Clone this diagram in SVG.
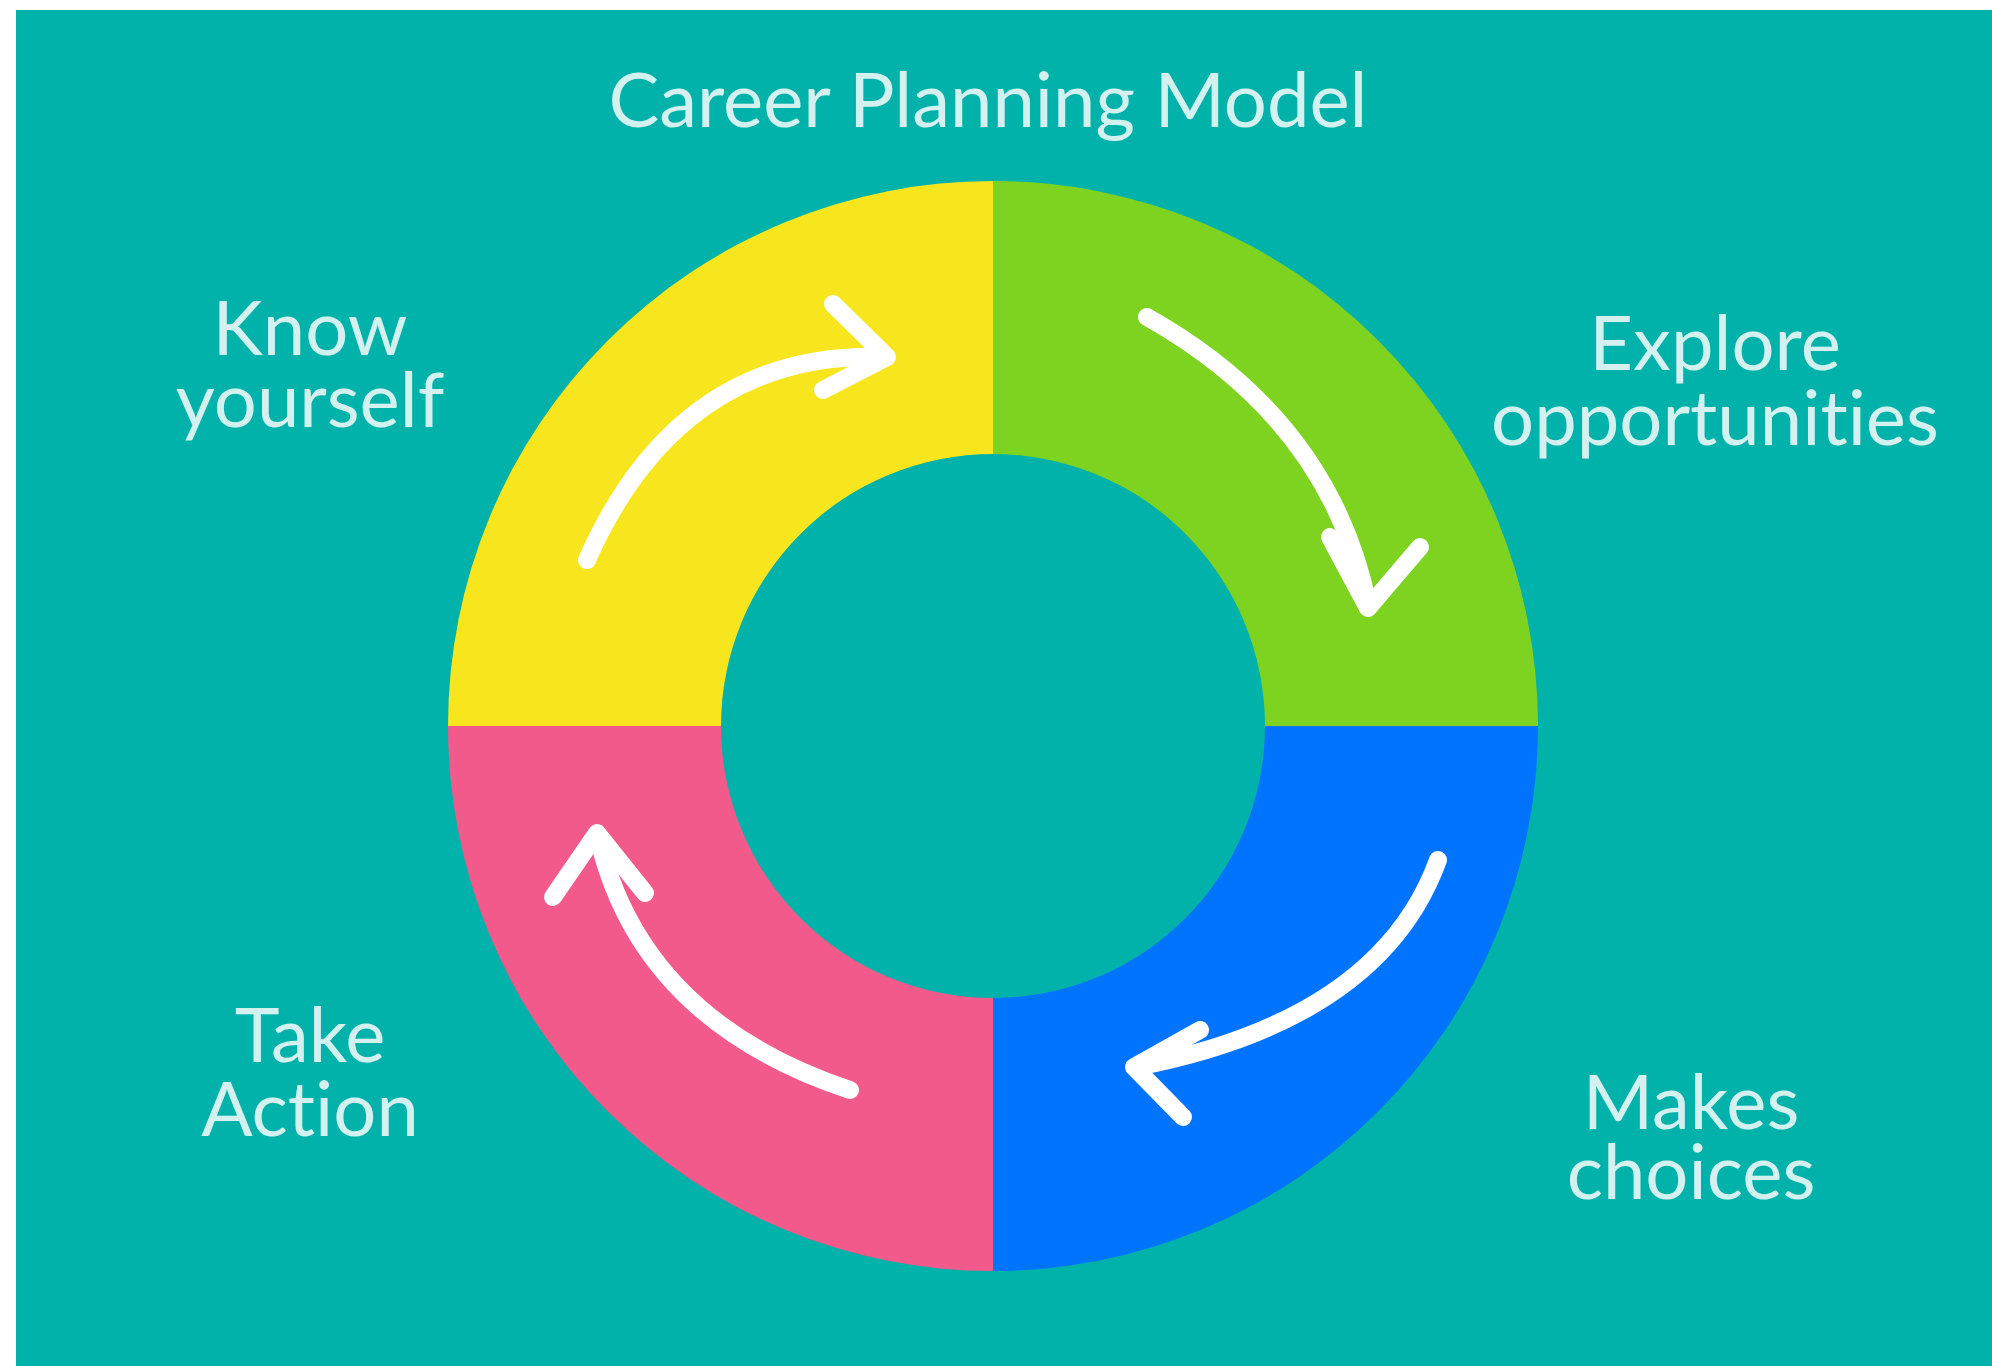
<svg xmlns="http://www.w3.org/2000/svg" width="1992" height="1366" viewBox="0 0 1992 1366">
<style>
.lbl{font-family:Lato,"Liberation Sans",sans-serif;font-size:76px;fill:#D3F1EE;text-anchor:middle;font-variant-ligatures:none;font-feature-settings:"liga" 0}
.arr{fill:none;stroke:#FFFFFF;stroke-width:18;stroke-linecap:round;stroke-linejoin:round}
</style>
<rect x="0" y="0" width="1992" height="1366" fill="#FFFFFF"/>
<rect x="16" y="10" width="1976" height="1356" fill="#00B2AA"/>
<text id="title" class="lbl" x="988" y="127">Career Planning Model</text>
<g id="know-yourself">
<path d="M448,726 A545,545 0 0 1 993,181 L993,454 A272,272 0 0 0 721,726 Z" fill="#F7E61E"/>
<text class="lbl" x="310" y="355">Know</text>
<text class="lbl" x="310" y="427">yourself</text>
</g>
<g id="explore-opportunities">
<path d="M993,181 A545,545 0 0 1 1538,726 L1265,726 A272,272 0 0 0 993,454 Z" fill="#7ED321"/>
<text class="lbl" x="1715" y="370">Explore</text>
<text class="lbl" x="1715" y="445">opportunities</text>
</g>
<g id="makes-choices">
<path d="M1538,726 A545,545 0 0 1 993,1271 L993,998 A272,272 0 0 0 1265,726 Z" fill="#0073FF"/>
<text class="lbl" x="1691" y="1129">Makes</text>
<text class="lbl" x="1691" y="1199">choices</text>
</g>
<g id="take-action">
<path d="M993,1271 A545,545 0 0 1 448,726 L721,726 A272,272 0 0 0 993,998 Z" fill="#F25A8B"/>
<text class="lbl" x="310" y="1062">Take</text>
<text class="lbl" x="310" y="1136">Action</text>
</g>
<g id="connectors">
<path class="arr" d="M587,560 Q680,350 885,357"/>
<path class="arr" d="M833,304 L887,357 L823,390"/>
<path class="arr" d="M1147,317 Q1330,420 1368,605"/>
<path class="arr" d="M1330,537 L1368,608 L1420,547"/>
<path class="arr" d="M1438,860 Q1380,1020 1136,1067"/>
<path class="arr" d="M1200,1030 L1134,1067 L1183,1117"/>
<path class="arr" d="M850,1090 Q640,1020 598,836"/>
<path class="arr" d="M553,897 L597,833 L645,893"/>
</g>
</svg>
